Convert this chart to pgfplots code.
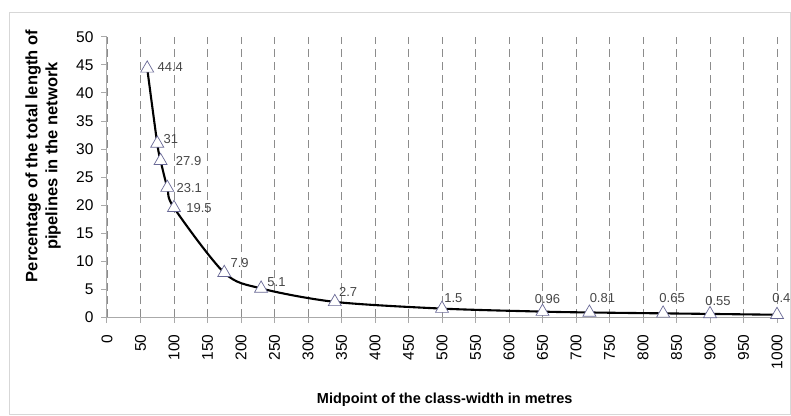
\documentclass[border=0pt]{standalone}
\usepackage{fontspec}
\setmainfont{Liberation Sans}
\usepackage{pgfplots}
\usepackage{pgfplotstable}
\pgfplotsset{compat=1.18}
\definecolor{markc}{RGB}{105,105,150}
\definecolor{axisc}{RGB}{170,170,170}
\definecolor{gridc}{RGB}{140,140,140}
\definecolor{labc}{RGB}{70,70,70}
\pgfplotstableread{
x y dx dy label
60 44.4 10 1 44.4
75 31 6 4 31
80 27.9 15 0 27.9
90 23.1 9 0 23.1
100 19.5 12 0 19.5
175 7.9 6 10 7.9
230 5.1 6 6 5.1
340 2.7 4 10 2.7
500 1.5 2 11 1.5
650 0.96 -8 13 0.96
720 0.81 0 14 0.81
830 0.65 -4 15 0.65
900 0.55 -5 13 0.55
1000 0.4 -5 17 0.4
}\data
\begin{document}
\begin{tikzpicture}
\path[use as bounding box] (-107pt,-98pt) rectangle (684pt,317pt);
\draw[color={rgb,255:red,215;green,215;blue,215}, line width=0.8pt] (-98pt,-97pt) rectangle (683pt,305pt);
\begin{axis}[
  at={(0pt,0pt)}, anchor=south west,
  scale only axis, width=670pt, height=280pt,
  xmin=0, xmax=1000, ymin=0, ymax=50,
  axis x line*=bottom, axis y line*=left,
  axis line style={color=axisc, line width=1pt},
  xtick={0,50,...,1000}, ytick={0,5,...,50},
  tick align=outside, major tick length=6pt,
  tick style={color=axisc, line width=1pt},
  /pgf/number format/assume math mode=true,
  /pgf/number format/1000 sep={},
  ticklabel style={font=\fontsize{15.5}{18}\selectfont, text=black},
  xticklabel style={rotate=90, anchor=east},
  xticklabel shift=8pt, yticklabel shift=4pt,
  xmajorgrids, ymajorgrids=false,
  x grid style={color=gridc, dash pattern=on 8pt off 5pt, line width=0.9pt},
  xlabel={Midpoint of the class-width in metres},
  ylabel={Percentage of the total length of\\pipelines in the network},
  every axis x label/.style={at={(axis description cs:0.504,-0.296)}, anchor=center, font=\fontsize{14.5}{17}\selectfont\bfseries},
  every axis y label/.style={at={(axis description cs:-0.0955,0.575)}, rotate=90, anchor=center, align=center, font=\fontsize{16.5}{20}\selectfont\bfseries},
  clip=false,
]
\addplot[black, line width=2.1pt, smooth, tension=0.5,
  mark=triangle*, mark size=7.5pt,
  mark options={fill=white, draw=markc, line width=0.7pt, solid},
  visualization depends on={\thisrow{dx} \as \dx},
  visualization depends on={\thisrow{dy} \as \dy},
  nodes near coords, point meta=explicit symbolic,
  every node near coord/.append style={anchor=west, inner sep=0pt, xshift=\dx pt, yshift=\dy pt, font=\fontsize{13}{15}\selectfont, text=labc}
] table[x=x, y=y, meta=label] {\data};
\end{axis}
\end{tikzpicture}
\end{document}
